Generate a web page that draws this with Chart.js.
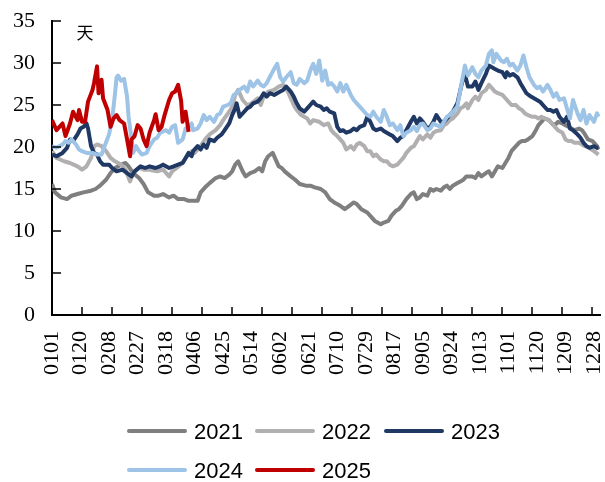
<!DOCTYPE html>
<html>
<head>
<meta charset="utf-8">
<script src="https://cdn.jsdelivr.net/npm/chart.js@4.4.1/dist/chart.umd.min.js"></script>
<style>
  html, body { margin: 0; padding: 0; background: #fff; }
</style>
</head>
<body>
<canvas id="chart" width="605" height="482"></canvas>
<script>
// x = day of year (0 = Jan 1), y = days
const tickDays = [0, 19, 38, 57, 76, 95, 114, 133, 152, 171, 190, 209, 228, 247, 266, 285, 304, 323, 342, 361];
const tickLabels = ["0101", "0120", "0208", "0227", "0318", "0406", "0425", "0514", "0602", "0621",
                    "0710", "0729", "0817", "0905", "0924", "1013", "1101", "1120", "1209", "1228"];
const tickMarkDays = [20, 40, 60, 80, 100, 120, 140, 160, 180, 200, 220, 240, 260, 280, 300, 320, 340, 360];
const yTicks = [5, 10, 15, 20, 25, 30, 35];
const unitLabel = "天";

const seriesNames = ["2021", "2022", "2023", "2024", "2025"];

const s2021 = [[0,15.6],[2,14.6],[6,14.0],[10,13.8],[13,14.2],[17,14.4],[21,14.6],[26,14.8],[29,15.0],[32,15.4],
  [36,16.1],[39,16.9],[42,17.5],[46,17.9],[49,18.1],[51,17.7],[54,16.9],[58,16.3],[61,15.6],[64,14.6],
  [68,14.2],[71,14.2],[74,14.4],[78,14.0],[81,14.2],[84,13.8],[88,13.8],[91,13.6],[94,13.6],[97,13.6],
  [99,14.6],[102,15.2],[105,15.7],[109,16.3],[112,16.5],[115,16.3],[118,16.7],[120,17.1],[122,17.9],[124,18.3],
  [127,17.1],[129,16.5],[132,16.9],[135,17.1],[138,17.5],[140,17.1],[142,18.3],[144,18.9],[147,19.3],[149,18.5],
  [151,17.7],[153,17.5],[155,17.1],[159,16.5],[162,16.1],[165,15.6],[169,15.4],[172,15.4],[175,15.2],[179,15.0],
  [182,14.6],[185,13.8],[188,13.4],[192,13.0],[195,12.6],[198,13.0],[201,13.4],[203,13.2],[206,12.6],[210,12.2],
  [212,11.8],[215,11.2],[219,10.8],[221,11.0],[224,11.2],[226,11.8],[229,12.4],[231,12.6],[233,13.0],[236,13.8],
  [239,14.4],[241,14.6],[243,13.8],[245,14.0],[247,14.4],[250,14.2],[252,15.0],[254,14.8],[256,15.0],[259,14.8],
  [261,15.2],[263,15.4],[265,15.0],[267,15.4],[270,15.7],[272,15.9],[274,16.1],[276,16.5],[280,16.5],[282,16.3],
  [284,16.9],[286,16.5],[289,16.9],[291,17.1],[293,16.5],[295,17.1],[297,17.7],[300,17.5],[302,18.1],[304,18.7],
  [306,19.5],[309,20.1],[311,20.5],[313,20.7],[315,20.7],[317,20.9],[320,21.3],[322,21.9],[324,22.6],[326,23.0],
  [328,23.4],[331,23.2],[333,22.8],[335,22.6],[337,23.0],[340,22.8],[342,22.6],[344,22.4],[346,22.2],[348,22.0],
  [351,22.2],[353,22.0],[355,21.5],[357,20.9],[360,20.7],[363,20.1],[364,19.7]];

const s2022 = [[0,19.5],[3,18.7],[8,18.3],[12,18.1],[17,17.7],[20,17.3],[23,17.7],[26,18.7],[28,20.1],[30,20.3],
  [33,20.1],[36,19.5],[39,18.7],[42,18.3],[46,17.9],[49,17.3],[52,15.9],[54,16.9],[58,17.5],[61,17.3],
  [65,17.3],[70,17.1],[74,17.3],[78,16.5],[80,17.1],[83,17.5],[87,18.1],[90,18.9],[93,19.5],[95,19.3],
  [99,20.1],[102,20.9],[105,21.5],[109,22.0],[112,22.6],[114,23.2],[118,24.2],[120,24.8],[122,26.2],[124,26.8],
  [127,25.6],[130,25.0],[133,25.2],[137,25.8],[139,25.0],[141,26.0],[144,26.6],[148,26.8],[151,27.2],[154,27.4],
  [156,27.0],[159,25.8],[161,25.0],[163,24.4],[166,23.8],[170,23.4],[172,22.8],[174,23.2],[178,23.0],[181,22.6],
  [184,22.8],[186,22.0],[188,21.6],[190,21.3],[192,20.9],[194,20.5],[196,19.7],[199,20.1],[201,19.7],[203,20.3],
  [205,20.5],[208,20.1],[210,19.5],[212,19.5],[214,18.9],[216,19.1],[219,18.5],[221,18.3],[223,18.3],[225,17.9],
  [227,17.7],[230,17.9],[232,18.3],[234,18.7],[236,19.3],[239,19.9],[241,20.1],[243,20.7],[245,21.3],[247,20.9],
  [250,21.5],[252,21.1],[254,21.7],[256,21.9],[259,22.0],[261,22.6],[263,22.8],[265,23.2],[267,23.4],[270,24.0],
  [272,24.6],[274,24.8],[276,25.2],[277,24.6],[280,25.6],[282,26.0],[284,25.6],[286,26.4],[289,26.8],[291,27.4],
  [293,27.0],[295,26.6],[297,26.4],[300,26.2],[302,25.8],[304,25.4],[306,25.0],[309,25.0],[311,24.6],[313,24.4],
  [315,24.0],[317,23.8],[320,23.6],[322,23.6],[324,23.4],[326,23.6],[328,23.4],[331,23.2],[333,22.8],[335,22.4],
  [337,22.0],[340,21.7],[342,20.9],[344,20.7],[346,20.7],[348,20.5],[351,20.5],[353,20.3],[355,20.1],[357,20.0],
  [361,19.5],[364,19.1]];

const s2023 = [[0,19.1],[3,18.9],[7,19.3],[10,19.9],[12,20.9],[14,20.7],[17,21.5],[19,22.2],[21,22.4],[23,22.8],
  [24,22.2],[26,20.1],[28,19.3],[30,19.1],[32,18.3],[34,17.9],[38,17.9],[40,17.5],[43,17.1],[47,17.3],
  [50,16.9],[53,16.5],[55,17.1],[59,17.7],[62,17.5],[65,17.7],[69,17.5],[72,17.7],[74,17.9],[78,17.5],
  [81,17.7],[84,17.9],[87,18.1],[89,18.7],[91,19.3],[93,18.9],[94,19.5],[97,20.1],[99,19.7],[101,20.3],
  [103,19.9],[105,20.9],[108,20.7],[110,21.1],[113,21.5],[115,22.0],[118,22.8],[120,23.8],[122,24.6],[123,25.2],
  [125,23.6],[128,24.2],[130,24.6],[132,24.8],[134,25.2],[137,25.4],[139,25.8],[141,26.4],[143,26.0],[145,26.4],
  [148,26.2],[150,26.4],[152,26.6],[154,26.8],[156,27.2],[159,26.6],[161,26.0],[163,25.2],[165,24.6],[168,24.2],
  [170,24.6],[172,25.0],[174,25.4],[176,25.0],[179,24.8],[181,24.4],[183,24.6],[185,24.2],[188,24.0],[190,22.4],
  [192,21.9],[194,22.0],[196,21.7],[199,21.9],[201,22.2],[203,22.0],[205,22.4],[208,22.6],[210,23.6],[212,23.0],
  [214,22.2],[216,22.0],[219,22.2],[221,21.9],[223,21.7],[225,21.5],[227,21.3],[230,20.7],[232,21.1],[234,21.3],
  [236,22.0],[239,23.0],[241,23.6],[243,22.8],[245,23.4],[247,23.0],[250,22.2],[252,22.4],[254,23.0],[256,23.8],
  [259,23.0],[261,23.0],[263,23.4],[265,23.8],[267,24.2],[270,25.2],[272,26.8],[274,28.3],[275,28.7],[277,27.2],
  [280,27.2],[282,27.8],[284,26.8],[286,27.6],[289,28.7],[291,29.7],[293,29.5],[295,29.3],[297,29.1],[300,28.9],
  [302,28.3],[303,28.9],[305,28.5],[307,28.7],[310,28.3],[312,27.6],[314,27.0],[316,26.4],[319,26.0],[321,25.8],
  [323,25.6],[325,25.4],[327,25.0],[330,24.4],[332,24.4],[334,24.2],[336,24.4],[338,23.6],[341,23.0],[343,23.6],
  [345,22.2],[347,22.0],[350,21.5],[352,21.1],[354,20.5],[356,20.1],[358,19.9],[361,20.1],[363,19.9],[364,19.9]];

const s2024 = [[0,20.1],[3,19.9],[7,20.3],[9,20.7],[11,20.5],[13,20.9],[16,20.3],[18,19.7],[20,19.5],[23,19.3],
  [27,19.3],[30,19.1],[33,19.1],[35,20.1],[38,21.5],[40,23.2],[42,26.4],[43,28.3],[44,28.5],[46,27.9],
  [48,28.1],[50,26.0],[51,23.6],[53,20.9],[54,19.3],[56,20.1],[58,19.5],[60,19.1],[63,19.3],[65,20.1],
  [68,20.9],[70,21.1],[72,21.7],[76,22.0],[78,21.7],[80,22.4],[82,22.6],[84,20.5],[87,20.9],[89,22.2],
  [91,22.4],[93,22.8],[94,22.0],[97,22.2],[99,22.8],[101,23.8],[103,23.2],[105,23.6],[108,23.0],[110,23.8],
  [112,24.0],[114,24.8],[117,25.0],[119,25.2],[121,26.2],[123,26.4],[125,26.8],[128,27.2],[130,26.6],[132,27.8],
  [134,27.2],[137,27.9],[139,27.4],[141,27.2],[143,27.6],[145,28.3],[148,29.3],[150,29.9],[152,28.3],[154,27.8],
  [156,28.3],[159,28.9],[161,27.6],[163,27.4],[165,28.1],[168,27.6],[170,27.9],[172,29.1],[174,29.9],[176,28.7],
  [178,30.3],[180,27.9],[182,29.1],[184,27.4],[186,27.6],[188,27.2],[190,26.6],[192,27.6],[194,26.6],[196,27.4],
  [199,26.2],[201,25.6],[203,25.2],[205,24.8],[208,24.2],[210,23.8],[212,23.6],[214,24.2],[216,23.6],[219,23.0],
  [221,24.4],[223,23.6],[225,22.6],[227,22.8],[230,22.0],[232,22.6],[234,21.3],[236,21.7],[239,22.0],[241,22.4],
  [243,21.9],[245,22.6],[247,22.8],[250,22.0],[252,22.2],[254,22.8],[256,22.6],[259,22.4],[261,23.0],[263,23.6],
  [265,23.8],[267,24.2],[270,24.8],[272,26.8],[274,28.7],[275,29.7],[277,28.5],[280,29.5],[282,28.7],[284,28.3],
  [286,29.1],[289,29.7],[291,31.1],[293,31.5],[294,30.1],[296,31.1],[299,30.3],[301,30.1],[303,30.5],[305,29.7],
  [307,29.9],[310,29.1],[312,29.7],[314,30.9],[316,29.5],[318,28.3],[321,27.4],[323,27.0],[325,27.2],[327,26.6],
  [330,27.4],[332,26.8],[334,26.0],[336,26.4],[338,25.6],[341,25.8],[343,24.6],[345,23.4],[347,25.6],[350,24.0],
  [352,23.2],[354,24.4],[356,22.8],[358,23.8],[361,23.0],[363,24.0],[364,23.6]];

const s2025 = [[0,23.2],[3,22.0],[7,22.8],[9,21.3],[12,22.8],[14,24.2],[17,23.2],[18,24.4],[20,23.0],[22,23.0],
  [24,25.4],[27,26.8],[28,27.6],[30,29.6],[31,26.4],[33,28.0],[34,25.8],[37,24.4],[39,22.4],[41,23.4],
  [43,23.8],[45,23.2],[48,22.8],[50,20.9],[52,18.9],[53,20.9],[55,21.3],[57,22.6],[59,22.2],[61,20.9],
  [63,20.1],[65,21.7],[68,23.2],[69,23.9],[71,22.0],[73,22.4],[75,23.8],[78,25.6],[80,26.4],[82,26.6],
  [84,27.4],[86,25.5],[87,23.0],[89,24.2],[91,21.8]];

const seriesData = [s2021, s2022, s2023, s2024, s2025];
const seriesColors = ["#7f7f7f", "#b1afaf", "#1f3864", "#9dc3e6", "#c00000"];

const serif = '"Liberation Serif", "Times New Roman", serif';

// Tick marks point inward, unit label and the legend are drawn by hand
const decorPlugin = {
  id: "decor",
  afterDraw(chart) {
    const ctx = chart.ctx;
    const area = chart.chartArea;
    const x = chart.scales.x;
    const y = chart.scales.y;

    ctx.save();
    ctx.strokeStyle = "#000";
    ctx.lineWidth = 1.5;
    yTicks.forEach(v => {
      const py = Math.round(y.getPixelForValue(v));
      ctx.beginPath();
      ctx.moveTo(area.left, py);
      ctx.lineTo(area.left + 9, py);
      ctx.stroke();
    });
    tickMarkDays.forEach(d => {
      const px = Math.round(x.getPixelForValue(d));
      ctx.beginPath();
      ctx.moveTo(px, area.bottom);
      ctx.lineTo(px, area.bottom - 8);
      ctx.stroke();
    });

    ctx.fillStyle = "#000";
    ctx.font = '17px "Noto Sans CJK SC"';
    ctx.textAlign = "center";
    ctx.textBaseline = "middle";
    ctx.fillText(unitLabel, area.left + 33, area.top + 12);

    // legend: two rows, left aligned
    const cols = [129, 257, 386];
    const rows = [431, 470];
    ctx.font = '22px "Liberation Sans", Arial, sans-serif';
    ctx.textAlign = "left";
    seriesNames.forEach((name, i) => {
      const lx = cols[i % 3];
      const ly = rows[Math.floor(i / 3)];
      ctx.strokeStyle = seriesColors[i];
      ctx.lineWidth = 4;
      ctx.lineCap = "round";
      ctx.beginPath();
      ctx.moveTo(lx, ly);
      ctx.lineTo(lx + 56, ly);
      ctx.stroke();
      ctx.fillStyle = "#000";
      ctx.fillText(name, lx + 65, ly + 2);
    });
    ctx.restore();
  }
};

new Chart(document.getElementById("chart"), {
  type: "line",
  data: {
    datasets: seriesNames.map((name, i) => ({
      label: name,
      data: seriesData[i].map(p => ({ x: p[0], y: p[1] })),
      borderColor: seriesColors[i],
      backgroundColor: seriesColors[i],
      order: seriesNames.length - i   // later years drawn on top
    }))
  },
  options: {
    responsive: false,
    animation: false,
    layout: { padding: { top: 21, right: 5, bottom: 97, left: 0 } },
    plugins: {
      legend: { display: false },
      tooltip: { enabled: false }
    },
    elements: {
      point: { radius: 0 },
      line: { borderWidth: 4, tension: 0, borderJoinStyle: "round", fill: false }
    },
    scales: {
      x: {
        type: "linear",
        min: 0,
        max: 365,
        afterBuildTicks: scale => {
          scale.ticks = tickDays.map(v => ({ value: v }));
        },
        afterFit: scale => {
          scale.height = 70;
          scale.paddingLeft = 0;
          scale.paddingRight = 0;
        },
        ticks: {
          autoSkip: false,
          minRotation: 90,
          maxRotation: 90,
          padding: 16,
          color: "#000",
          font: { family: serif, size: 22 },
          callback: (value, index) => tickLabels[index]
        },
        grid: { display: false, drawTicks: false },
        border: { color: "#000", width: 2 }
      },
      y: {
        min: 0,
        max: 35,
        afterFit: scale => {
          scale.width = 52;
          scale.paddingTop = 0;
          scale.paddingBottom = 0;
        },
        ticks: {
          stepSize: 5,
          padding: 17,
          color: "#000",
          font: { family: serif, size: 22 }
        },
        grid: { display: false, drawTicks: false },
        border: { color: "#000", width: 2 }
      }
    }
  },
  plugins: [decorPlugin]
});
</script>
</body>
</html>
